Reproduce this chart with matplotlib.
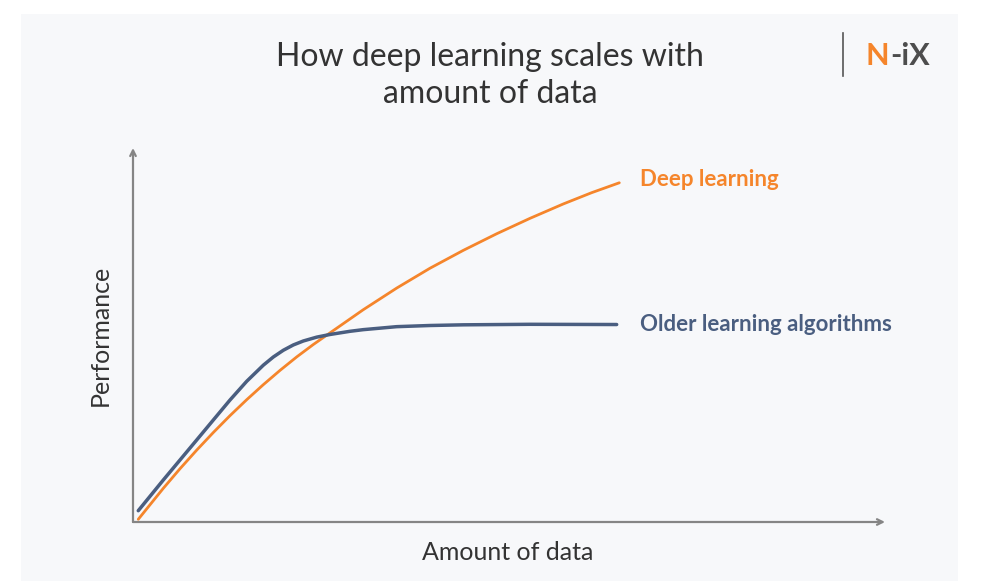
import matplotlib
matplotlib.use("Agg")
import matplotlib.pyplot as plt
from matplotlib.patches import Rectangle

plt.rcParams['font.family'] = ['Lato', 'DejaVu Sans']

# Кривые (x: количество данных, y: производительность, 0..100)
old_x = [0.70, 4.03, 6.25, 8.47, 10.68, 12.90, 15.12, 17.33, 18.66, 19.99, 21.32,
         22.65, 24.43, 26.20, 28.86, 30.62, 35.07, 39.50, 43.92, 52.79, 64.32]
old_y = [3.02, 11.23, 16.58, 21.93, 27.27, 32.62, 37.62, 41.93, 44.12, 45.92, 47.34,
         48.40, 49.43, 50.14, 50.99, 51.43, 52.23, 52.54, 52.72, 52.86, 52.80]

deep_x = [0.70, 4.03, 6.25, 8.47, 10.68, 12.90, 15.12, 17.33, 19.55, 21.77, 23.98,
          26.20, 30.62, 35.07, 39.49, 43.92, 48.36, 52.79, 57.22, 61.00, 64.67]
deep_y = [0.72, 9.01, 14.25, 19.22, 23.93, 28.44, 32.70, 36.72, 40.54, 44.14, 47.46,
          50.57, 56.76, 62.55, 67.85, 72.63, 77.07, 81.19, 85.04, 88.06, 90.70]

orange = '#F5852B'
blue = '#4A5E80'
axis_col = '#858585'
text_col = '#333333'

W, H = 982, 581
fig = plt.figure(figsize=(W / 100, H / 100), dpi=100, facecolor='white')

# светло-серая подложка
fig.patches.append(Rectangle((21 / W, 0), (958 - 21) / W, 1 - 14 / H,
                             transform=fig.transFigure, facecolor='#F7F8FA',
                             edgecolor='none', zorder=-10))

ax = fig.add_axes([133 / W, 1 - 522 / H, (885 - 133) / W, (522 - 148) / H])
ax.set_facecolor('none')
ax.set_xlim(0, 100)
ax.set_ylim(0, 100)
ax.axis('off')

# оси со стрелками
arrow = dict(arrowstyle='->', color=axis_col, lw=1.6, shrinkA=0, shrinkB=0,
             mutation_scale=10)
ax.annotate('', xy=(100, 0), xytext=(0, 0), arrowprops=arrow, annotation_clip=False)
ax.annotate('', xy=(0, 100), xytext=(0, 0), arrowprops=arrow, annotation_clip=False)

ax.plot(deep_x, deep_y, color=orange, lw=2.0, solid_capstyle='round',
        solid_joinstyle='round', clip_on=False)
ax.plot(old_x, old_y, color=blue, lw=2.5, solid_capstyle='round',
        solid_joinstyle='round', clip_on=False)

ax.text(67.4, deep_y[-1] + 0.8, 'Deep learning', color=orange, fontsize=16,
        fontweight='bold', va='center', ha='left')
ax.text(67.4, old_y[-1], 'Older learning algorithms', color=blue, fontsize=16,
        fontweight='bold', va='center', ha='left')

# подписи осей
fig.text(508 / W, 1 - 553 / H, 'Amount of data', color=text_col, fontsize=18,
         ha='center', va='center')
fig.text(100 / W, 1 - 335 / H, 'Performance', color=text_col, fontsize=18,
         ha='center', va='center', rotation=90)

# заголовок
fig.text(490 / W, 1 - 66 / H, 'How deep learning scales with', color=text_col,
         fontsize=23, ha='center', va='baseline')
fig.text(490 / W, 1 - 103 / H, 'amount of data', color=text_col,
         fontsize=23, ha='center', va='baseline')

# логотип
fig.add_artist(plt.Line2D([843 / W, 843 / W], [1 - 33 / H, 1 - 76 / H],
                          color='#555555', lw=1.2))
n_txt = fig.text(866 / W, 1 - 56 / H, 'N', color=orange, fontsize=22, fontweight='bold',
                 ha='left', va='center')
fig.canvas.draw()
bb = n_txt.get_window_extent()
fig.text((bb.x1 + 1) / W, 1 - 56 / H, '-iX', color='#4D4D4D', fontsize=22,
         fontweight='bold', ha='left', va='center')

fig.savefig('out.png', dpi=100, facecolor='white')
